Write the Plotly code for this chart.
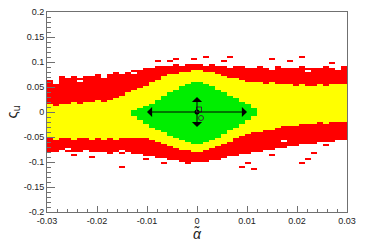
import plotly.graph_objects as go

# ---------------- data ----------------
# x-bin centres (alpha tilde), 50 columns of width 0.0012
alpha_bins = [round(-0.0294 + 0.0012 * i, 5) for i in range(50)]
# y-bin centres (varsigma_u), 100 rows of width 0.004
sigma_bins = [round(-0.198 + 0.004 * j, 4) for j in range(100)]

# edges of the three regions for every alpha column
red_top = [0.064, 0.060, 0.068, 0.066, 0.070, 0.068, 0.072, 0.070, 0.074, 0.072,
           0.076, 0.078, 0.076, 0.080, 0.082, 0.084, 0.086, 0.088, 0.090, 0.092,
           0.090, 0.094, 0.092, 0.096, 0.094, 0.096, 0.092, 0.094, 0.090, 0.092,
           0.088, 0.090, 0.092, 0.088, 0.086, 0.090, 0.088, 0.086, 0.090, 0.088,
           0.086, 0.088, 0.090, 0.086, 0.088, 0.086, 0.090, 0.088, 0.086, 0.090]
yellow_top = [0.016, 0.012, 0.016, 0.014, 0.018, 0.016, 0.020, 0.018, 0.022, 0.020,
              0.024, 0.028, 0.032, 0.038, 0.044, 0.048, 0.052, 0.058, 0.064, 0.070,
              0.074, 0.076, 0.080, 0.080, 0.082, 0.082, 0.080, 0.078, 0.076, 0.072,
              0.068, 0.066, 0.062, 0.060, 0.058, 0.060, 0.056, 0.058, 0.056, 0.054,
              0.056, 0.052, 0.054, 0.052, 0.050, 0.054, 0.052, 0.056, 0.054, 0.056]
green_top = [None] * 14 + [0.002, 0.006, 0.010, 0.014, 0.022, 0.030, 0.038, 0.044,
                           0.050, 0.054, 0.058, 0.058, 0.054, 0.050, 0.044, 0.038,
                           0.032, 0.026, 0.020, 0.014, 0.006] + [None] * 15
green_bottom = [None] * 14 + [-0.008, -0.016, -0.024, -0.030, -0.034, -0.040, -0.046,
                              -0.052, -0.056, -0.060, -0.062, -0.062, -0.060, -0.056,
                              -0.050, -0.044, -0.036, -0.030, -0.024, -0.016, -0.008] + [None] * 15
yellow_bottom = [-0.052, -0.054, -0.050, -0.052, -0.054, -0.052, -0.050, -0.054, -0.052, -0.054,
                 -0.052, -0.054, -0.052, -0.050, -0.052, -0.050, -0.052, -0.056, -0.060, -0.062,
                 -0.066, -0.070, -0.074, -0.076, -0.080, -0.080, -0.076, -0.072, -0.068, -0.062,
                 -0.058, -0.052, -0.046, -0.042, -0.040, -0.038, -0.036, -0.034, -0.030, -0.028,
                 -0.026, -0.026, -0.024, -0.022, -0.024, -0.020, -0.022, -0.018, -0.020, -0.018]
red_bottom = [-0.078, -0.080, -0.076, -0.078, -0.080, -0.078, -0.076, -0.080, -0.078, -0.080,
              -0.082, -0.080, -0.082, -0.080, -0.084, -0.082, -0.086, -0.088, -0.090, -0.092,
              -0.094, -0.096, -0.098, -0.100, -0.100, -0.098, -0.100, -0.096, -0.094, -0.090,
              -0.088, -0.086, -0.084, -0.082, -0.080, -0.078, -0.076, -0.074, -0.072, -0.070,
              -0.068, -0.066, -0.064, -0.062, -0.062, -0.060, -0.058, -0.058, -0.056, -0.056]

# isolated red bins outside the band (alpha, sigma)
speck_alpha = [-0.0080, -0.0050, -0.0040, 0.0000, 0.0016, 0.0066, 0.0146, 0.0190, 0.0210,
               -0.0154, -0.0208, -0.0250, 0.0206, 0.0220, 0.0236, 0.0156, 0.0116, 0.0102,
               0.0090, -0.0070, -0.0024, 0.0270, -0.0270, 0.0260, -0.0100, 0.0050]
speck_sigma = [0.104, 0.104, 0.106, 0.106, 0.110, 0.112, 0.108, 0.104, 0.110,
               -0.110, -0.090, -0.086, -0.100, -0.094, -0.082, -0.086, -0.114, -0.102,
               -0.110, -0.100, -0.102, 0.098, 0.070, -0.066, -0.092, 0.100]
# empty bins inside the red band (alpha, sigma)
hole_alpha = [-0.0234, -0.0280, -0.0180, -0.0120, 0.0150, 0.0220, 0.0280, -0.0260, -0.0150, 0.0180]
hole_sigma = [0.062, 0.058, 0.070, 0.078, 0.086, 0.082, 0.084, -0.074, -0.078, -0.060]

# marks at the centre
cross_tip_alpha = [-0.010, 0.010, 0.0, 0.0]
cross_tip_sigma = [0.0, 0.0, 0.030, -0.030]
centre_point = (0.0, 0.0)
square_point = (0.0004, 0.005)
circle_point = (0.0008, -0.012)

x_ticks = [-0.03, -0.02, -0.01, 0.0, 0.01, 0.02, 0.03]
x_labels = ["-0.03", "-0.02", "-0.01", "0", "0.01", "0.02", "0.03"]
y_ticks = [-0.2, -0.15, -0.1, -0.05, 0.0, 0.05, 0.1, 0.15, 0.2]
y_labels = ["-0.2", "-0.15", "-0.1", "-0.05", "0", "0.05", "0.1", "0.15", "0.2"]

# ---------------- build the binned map ----------------
z = [[None] * len(alpha_bins) for _ in sigma_bins]
for i, a in enumerate(alpha_bins):
    for j, s in enumerate(sigma_bins):
        v = None
        if red_bottom[i] <= s <= red_top[i]:
            v = 1
        if yellow_bottom[i] <= s <= yellow_top[i]:
            v = 2
        if green_top[i] is not None and green_bottom[i] <= s <= green_top[i]:
            v = 3
        z[j][i] = v


def nearest(arr, val):
    return min(range(len(arr)), key=lambda k: abs(arr[k] - val))


for a, s in zip(speck_alpha, speck_sigma):
    z[nearest(sigma_bins, s)][nearest(alpha_bins, a)] = 1
for a, s in zip(hole_alpha, hole_sigma):
    z[nearest(sigma_bins, s)][nearest(alpha_bins, a)] = None

RED, YELLOW, GREEN = "#ff0000", "#ffff00", "#00ee00"
fig = go.Figure()
fig.add_trace(go.Heatmap(
    x=alpha_bins, y=sigma_bins, z=z, zmin=1, zmax=3, zsmooth=False,
    colorscale=[[0, RED], [0.25, RED], [0.25, YELLOW], [0.75, YELLOW],
                [0.75, GREEN], [1, GREEN]],
    showscale=False, hoverinfo="skip"))

# arrows
for ta, ts in zip(cross_tip_alpha, cross_tip_sigma):
    fig.add_annotation(x=ta, y=ts, ax=centre_point[0], ay=centre_point[1],
                       xref="x", yref="y", axref="x", ayref="y", text="",
                       showarrow=True, arrowhead=1, arrowsize=1.7, arrowwidth=1,
                       arrowcolor="black", standoff=0, startstandoff=0)

fig.add_trace(go.Scatter(x=[centre_point[0]], y=[centre_point[1]], mode="markers",
                         marker=dict(symbol="circle", size=5, color="black"),
                         hoverinfo="skip", showlegend=False))
fig.add_trace(go.Scatter(x=[square_point[0]], y=[square_point[1]], mode="markers",
                         marker=dict(symbol="square-open", size=5, color="#333",
                                     line=dict(width=1)),
                         hoverinfo="skip", showlegend=False))
fig.add_trace(go.Scatter(x=[circle_point[0]], y=[circle_point[1]], mode="markers",
                         marker=dict(symbol="circle-open", size=5, color="#333",
                                     line=dict(width=1)),
                         hoverinfo="skip", showlegend=False))

AX = "#707070"
tickfont = dict(family="Liberation Sans, Arial, sans-serif", size=9, color="#222")
fig.update_xaxes(range=[-0.03, 0.03], tickmode="array", tickvals=x_ticks, ticktext=x_labels,
                 ticks="inside", ticklen=6, tickcolor=AX, tickwidth=1, automargin=False,
                 minor=dict(tickmode="linear", tick0=-0.03, dtick=0.002, ticks="inside",
                            ticklen=3, tickcolor=AX, tickwidth=1, showgrid=False),
                 showline=True, linecolor=AX, linewidth=1, mirror=True,
                 showgrid=False, zeroline=False, tickfont=tickfont,
                 title=dict(text="<i>α̃</i>", standoff=3,
                            font=dict(family="Liberation Sans, Arial", size=14, color="#222")))
fig.update_yaxes(range=[-0.2, 0.2], tickmode="array", tickvals=y_ticks, ticktext=y_labels,
                 ticks="inside", ticklen=8, tickcolor=AX, tickwidth=1, automargin=False,
                 minor=dict(tickmode="linear", tick0=-0.2, dtick=0.01, ticks="inside",
                            ticklen=4, tickcolor=AX, tickwidth=1, showgrid=False),
                 showline=True, linecolor=AX, linewidth=1, mirror=True,
                 showgrid=False, zeroline=False, tickfont=tickfont,
                 title=dict(text="ς<sub>u</sub>", standoff=2,
                            font=dict(family="Liberation Sans, Arial", size=15, color="#222")))
fig.update_layout(width=375, height=243, margin=dict(l=47, r=28, t=12, b=31, autoexpand=False),
                  paper_bgcolor="white", plot_bgcolor="white", showlegend=False)
fig.write_html("out.html", config={"displayModeBar": False},
               post_script="document.body.style.margin='0';document.body.style.overflow='hidden';")
